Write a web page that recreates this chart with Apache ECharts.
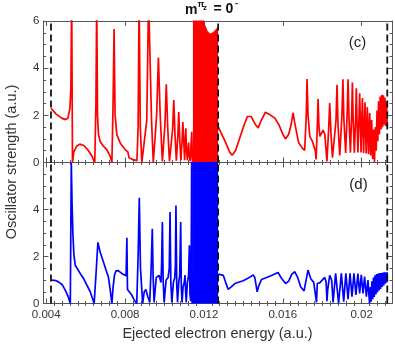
<!DOCTYPE html>
<html>
<head>
<meta charset="utf-8">
<script src="https://cdn.jsdelivr.net/npm/echarts@6/dist/echarts.min.js"></script>
<style>
  html, body { margin: 0; padding: 0; background: #fff; }
  #chart { width: 395px; height: 345px; }
</style>
</head>
<body>
<div id="chart"></div>
<script>
// panel (c): red curve, [energy, strength]
const redLeft = [
  [0.00424,2.3],[0.0045,2.05],[0.0048,1.87],[0.00498,1.82],[0.0051,1.88],[0.0052,2.3],[0.00525,3.2],[0.00529,7],[0.00533,0],
  [0.0054,0.45],[0.00555,0.7],[0.0057,0.78],[0.0059,0.72],[0.0061,0.55],[0.0063,0.3],[0.00646,0],
  [0.00652,2.5],[0.00656,7],[0.0066,2],[0.00665,1.18],[0.00673,0.9],[0.0069,0.69],[0.00707,0.55],[0.00724,0.27],[0.00733,0],
  [0.00739,2.5],[0.00744,5.66],[0.00749,2.03],[0.00758,1.18],[0.00775,0.83],[0.008,0.55],[0.00814,0.45],[0.00818,0.4],[0.0082,0.2],[0.0084,0.12],[0.0086,0.08],
  [0.00866,1.5],[0.00871,7],[0.00877,1.5],[0.00885,0],
  [0.0091,1.8],[0.00919,7],[0.00925,7],[0.00934,1.8],[0.00943,0],
  [0.0096,2.0],[0.00969,4.45],[0.00978,2.0],[0.00989,0.05],
  [0.01002,1.6],[0.01009,3.32],[0.01016,1.5],[0.01025,0.05],
  [0.01041,1.4],[0.01047,2.65],[0.01053,1.2],[0.0106,0.08],
  [0.01068,1.2],[0.01072,2.14],[0.01077,1.0],[0.01083,0.1],
  [0.01089,0.9],[0.01093,1.72],[0.01098,0.8],[0.01102,0.1],
  [0.01105,0.9],[0.01108,1.45],[0.01111,0.6],[0.01116,0.1],
  [0.01119,0.5],[0.01122,0.85],[0.01125,0.3],[0.01131,0.05],
  [0.01134,0.7],[0.01138,1.3],[0.01141,0.2],[0.01144,0]
];
// upper edge of the unresolved dense resonances
const redBand = [
  [0.01144,7],[0.0119,7],[0.01196,6.05],[0.01205,5.8],[0.01215,5.6],[0.0123,5.44],[0.01245,5.5],[0.0126,5.62],[0.01272,5.75]
];
const redRight = [
  [0.01273,1.5],[0.0129,1.2],[0.0131,0.85],[0.0133,0.45],[0.01343,0.31],[0.0136,0.5],[0.0138,1.0],[0.014,1.5],[0.0142,1.95],[0.01424,2.03],
  [0.0144,1.95],[0.0146,1.62],[0.01475,1.47],[0.0149,1.78],[0.01512,2.13],[0.0153,2.05],[0.0156,1.88],[0.0158,1.6],[0.016,1.2],[0.01614,1.0],
  [0.0163,1.2],[0.01642,1.6],[0.01652,2.1],[0.0166,1.7],[0.0168,0.85],[0.017,0.6],[0.01711,0.52],[0.01719,2.0],[0.01723,3.54],[0.01728,2.0],
  [0.01737,1.11],[0.0175,0.9],[0.01765,0.5],[0.01769,0.13],[0.01775,1.5],[0.01779,2.69],[0.01783,1.6],[0.01788,1.11],[0.01797,1.25],[0.01804,1.37],[0.01813,1.2],[0.01824,0.05],
  [0.01833,1.5],[0.01838,2.52],[0.01844,1.3],[0.01852,0.2],
  [0.0187,1.8],[0.01875,3.3],[0.0188,1.6],[0.01889,0.3],
  [0.019,2.0],[0.01905,3.53],[0.0191,1.8],[0.01919,0.4],
  [0.01927,2.2],[0.01931,3.53],[0.01936,1.8],[0.01943,0.42],
  [0.0195,2.2],[0.01953,3.39],[0.01957,1.8],[0.01963,0.42],
  [0.0197,2.0],[0.01973,3.15],[0.01977,1.6],[0.01981,0.42],
  [0.01987,2.0],[0.0199,2.94],[0.01994,1.5],[0.01997,0.42],
  [0.02001,1.9],[0.02004,2.73],[0.02007,1.4],[0.0201,0.4],
  [0.02017,2.55],[0.02023,0.38],[0.02029,2.35],[0.02035,0.35],[0.02041,2.1],[0.02046,0.3],[0.02051,1.8],[0.02056,0.15],
  [0.02061,1.4],[0.02065,0.02],[0.0207,1.5],[0.02074,0.5],[0.02078,2.2],[0.02082,0.9],[0.02086,2.6],[0.0209,1.2],
  [0.02094,2.8],[0.02098,1.4],[0.02102,2.87],[0.02106,1.5],[0.0211,2.85],[0.02114,1.6],[0.02118,2.75],[0.02122,1.55],
  [0.02126,2.6],[0.0213,1.5]
];

// panel (d): blue curve
const blueLeft = [
  [0.00424,1.0],[0.0045,0.97],[0.00462,0.92],[0.00481,0.8],[0.00496,0.57],[0.00511,0.3],[0.00522,0],[0.00527,6.0],[0.00531,4.2],[0.00535,3.0],
  [0.0054,2.1],[0.00547,1.63],[0.00572,1.28],[0.0059,1.05],[0.00606,0.78],[0.00623,0.5],[0.00643,0],
  [0.00652,1.2],[0.00662,2.6],[0.00673,2.2],[0.0069,1.77],[0.00704,1.4],[0.00715,1.14],[0.00724,0.6],[0.00733,0],
  [0.00739,0.7],[0.00746,1.2],[0.00754,1.39],[0.00765,1.4],[0.00783,1.28],[0.00805,1.18],[0.00809,2.8],[0.00812,0.6],[0.00817,0.55],[0.00834,0.36],[0.00846,0.15],[0.00859,0],
  [0.00866,2.0],[0.00872,4.5],[0.00878,1.5],[0.00889,0],
  [0.00897,0.5],[0.00905,0.6],[0.00915,0.3],[0.00925,0.05],
  [0.00932,1.5],[0.00938,3.18],[0.00942,1.2],[0.00947,0.05],
  [0.00958,1.1],[0.00972,1.2],[0.00982,0.9],[0.00985,1.6],[0.00989,3.47],[0.00993,1.0],[0.00998,0.05],
  [0.01008,1.0],[0.01018,1.1],[0.01024,1.5],[0.01028,3.89],[0.01032,0.9],[0.01037,0.05],
  [0.01045,0.9],[0.01052,1.1],[0.01055,1.6],[0.01058,4.17],[0.01062,0.8],[0.01066,0.05],
  [0.01072,0.9],[0.01077,1.2],[0.01082,3.47],[0.01085,0.7],[0.01089,0.05],
  [0.01094,0.7],[0.011,0.9],[0.01104,1.21],[0.01107,0.5],[0.0111,0.05],
  [0.01116,0.9],[0.01122,1.2],[0.01126,2.48],[0.01129,0.4],[0.01133,0.1],[0.01136,3],[0.01138,7],[0.0114,0]
];
const blueBand = [
  [0.0114,7],[0.01272,7]
];
const blueRight = [
  [0.01273,1.25],[0.01298,1.2],[0.0131,0.9],[0.01323,0.6],[0.01337,0.7],[0.01357,0.85],[0.01399,0.97],[0.01423,1.07],[0.0145,1.21],[0.01458,1.1],
  [0.0147,0.5],[0.01478,0.75],[0.01492,1.02],[0.01534,1.16],[0.01576,1.32],[0.01595,1.05],[0.01614,0.85],[0.0163,0.95],[0.01646,1.25],[0.01661,1.35],
  [0.01676,1.1],[0.01691,0.7],[0.01708,0.54],[0.01716,0.9],[0.01728,1.42],[0.01742,1.05],[0.01757,0.9],[0.01765,0.85],[0.01771,0.05],[0.01775,0.85],
  [0.01787,0.88],[0.01797,0.95],[0.01813,1.11],[0.0182,0.9],[0.01824,0.1],[0.01828,0.6],[0.01838,1.2],[0.01848,1.0],[0.01855,0.05],
  [0.01868,1.28],[0.01883,0.01],[0.01897,1.28],[0.01909,0.08],[0.0192,1.28],[0.01931,0.18],[0.01941,1.28],[0.01951,0.29],
  [0.01961,1.28],[0.01971,0.36],[0.01981,1.27],[0.0199,0.43],[0.01998,1.22],[0.02007,0.43],[0.02015,1.15],[0.02024,0.29],[0.02032,1.0],[0.0204,0],
  [0.02044,0.7],[0.02048,0.08],[0.02052,0.95],[0.02056,0.18],[0.0206,1.1],[0.02064,0.28],[0.02068,1.2],[0.02072,0.38],[0.02076,1.25],[0.0208,0.47],
  [0.02084,1.28],[0.02088,0.55],[0.02092,1.3],[0.02096,0.62],[0.021,1.3],[0.02104,0.7],[0.02108,1.32],[0.02112,0.77],[0.02116,1.33],[0.0212,0.84],
  [0.02124,1.33],[0.02128,0.9],[0.0213,1.33]
];

// threshold energies (dashed lines)
const thresholds = [0.00424, 0.01272, 0.0213];
const majorTicks = [0.004, 0.008, 0.012, 0.016, 0.02];
const minorTicks = [];
for (let k = 9; k <= 54; k++) {
  if (k % 10 !== 0) minorTicks.push(k * 4 / 10000);
}

const xMin = 0.00386, xMax = 0.02154;
const frame = '#555';
const font = 'Liberation Sans, Arial, Helvetica, sans-serif';
const RED = '#ff0000', BLUE = '#0000ff';

function xAxisSet(grid, labels) {
  const common = { gridIndex: grid, type: 'value', min: xMin, max: xMax, splitLine: { show: false } };
  const major = {
    axisLine: { show: true, onZero: false, lineStyle: { color: frame, width: 1 } },
    axisTick: { show: true, inside: true, length: 5, customValues: majorTicks, lineStyle: { color: frame } }
  };
  const minor = {
    axisLine: { show: false },
    axisTick: { show: true, inside: true, length: 2.5, customValues: minorTicks, lineStyle: { color: frame } },
    axisLabel: { show: false }
  };
  return [
    Object.assign({}, common, major, {
      position: 'bottom',
      axisLabel: {
        show: labels, customValues: majorTicks, margin: 5, fontSize: 11.5, color: '#333', fontFamily: font,
        formatter: v => String(+(+v).toFixed(3))
      }
    }),
    Object.assign({}, common, major, { position: 'top', axisLabel: { show: false } }),
    Object.assign({}, common, minor, { position: 'bottom' }),
    Object.assign({}, common, minor, { position: 'top' })
  ];
}

function yAxisSet(grid, showMax) {
  const common = {
    gridIndex: grid, type: 'value', min: 0, max: 6, interval: 2, splitLine: { show: false },
    axisLine: { show: true, onZero: false, lineStyle: { color: frame, width: 1 } },
    axisTick: { show: true, inside: true, length: 5, lineStyle: { color: frame } },
    minorTick: { show: true, splitNumber: 4, length: 2.5, lineStyle: { color: frame } }
  };
  return [
    Object.assign({}, common, {
      position: 'left',
      axisLabel: { showMaxLabel: showMax, margin: 4, fontSize: 11.5, color: '#333', fontFamily: font }
    }),
    Object.assign({}, common, { position: 'right', axisLabel: { show: false } })
  ];
}

function curve(data, color, xi, yi) {
  return { type: 'line', data: data, xAxisIndex: xi, yAxisIndex: yi, showSymbol: false, symbol: 'none',
    lineStyle: { color: color, width: 1.7 }, z: 3 };
}
function band(data, color, xi, yi) {
  return { type: 'line', data: data, xAxisIndex: xi, yAxisIndex: yi, showSymbol: false, symbol: 'none',
    lineStyle: { color: color, width: 1 }, areaStyle: { color: color, opacity: 1 }, z: 3 };
}
// one vertical dashed series per threshold, spanning the full y range
function dashes(xi, yi) {
  return thresholds.map(t => ({
    type: 'line', data: [[t, 0], [t, 6]], xAxisIndex: xi, yAxisIndex: yi, z: 6,
    showSymbol: false, symbol: 'none', silent: true,
    lineStyle: { type: [7, 4], color: '#111', width: 1.8 }
  }));
}

const chart = echarts.init(document.getElementById('chart'), null, { renderer: 'canvas' });
chart.setOption({
  animation: false,
  backgroundColor: '#fff',
  grid: [
    { left: 43.5, top: 21, width: 348.5, height: 141.5 },
    { left: 43.5, top: 162.5, width: 348.5, height: 141 }
  ],
  xAxis: xAxisSet(0, false).concat(xAxisSet(1, true)),
  yAxis: yAxisSet(0, true).concat(yAxisSet(1, false)),
  series: [
    curve(redLeft, RED, 0, 0),
    band(redBand, RED, 0, 0),
    curve(redRight, RED, 0, 0),
    curve(blueLeft, BLUE, 4, 2),
    band(blueBand, BLUE, 4, 2),
    curve(blueRight, BLUE, 4, 2)
  ].concat(dashes(0, 0), dashes(4, 2)),
  graphic: [
    // title m^{pi_z} = 0^-
    { type: 'text', x: 185, y: 10, style: { text: 'm', font: 'bold 14px ' + font, fill: '#111', align: 'left', verticalAlign: 'middle', textAlign: 'left', textVerticalAlign: 'middle' } },
    { type: 'text', x: 197.5, y: 4.5, style: { text: 'π', font: 'bold 9px ' + font, fill: '#111', align: 'left', verticalAlign: 'middle', textAlign: 'left', textVerticalAlign: 'middle' } },
    { type: 'text', x: 203, y: 7.5, style: { text: 'z', font: 'bold 8px ' + font, fill: '#111', align: 'left', verticalAlign: 'middle', textAlign: 'left', textVerticalAlign: 'middle' } },
    { type: 'text', x: 213.5, y: 9, style: { text: '= 0', font: 'bold 14px ' + font, fill: '#111', align: 'left', verticalAlign: 'middle', textAlign: 'left', textVerticalAlign: 'middle' } },
    { type: 'text', x: 235, y: 4, style: { text: '-', font: 'bold 9px ' + font, fill: '#111', align: 'left', verticalAlign: 'middle', textAlign: 'left', textVerticalAlign: 'middle' } },
    // panel tags
    { type: 'text', x: 357.5, y: 43, style: { text: '(c)', font: '15px ' + font, fill: '#222', align: 'center', verticalAlign: 'middle', textAlign: 'center', textVerticalAlign: 'middle' } },
    { type: 'text', x: 358.5, y: 185, style: { text: '(d)', font: '15px ' + font, fill: '#222', align: 'center', verticalAlign: 'middle', textAlign: 'center', textVerticalAlign: 'middle' } },
    // axis titles
    { type: 'text', x: 217.5, y: 334, style: { text: 'Ejected electron energy (a.u.)', font: '14.5px ' + font, fill: '#333', align: 'center', verticalAlign: 'middle', textAlign: 'center', textVerticalAlign: 'middle' } },
    { type: 'text', x: 12, y: 162, rotation: Math.PI / 2, style: { text: 'Oscillator strength (a.u.)', font: '14.5px ' + font, fill: '#333', align: 'center', verticalAlign: 'middle', textAlign: 'center', textVerticalAlign: 'middle' } }
  ]
});
</script>
</body>
</html>
